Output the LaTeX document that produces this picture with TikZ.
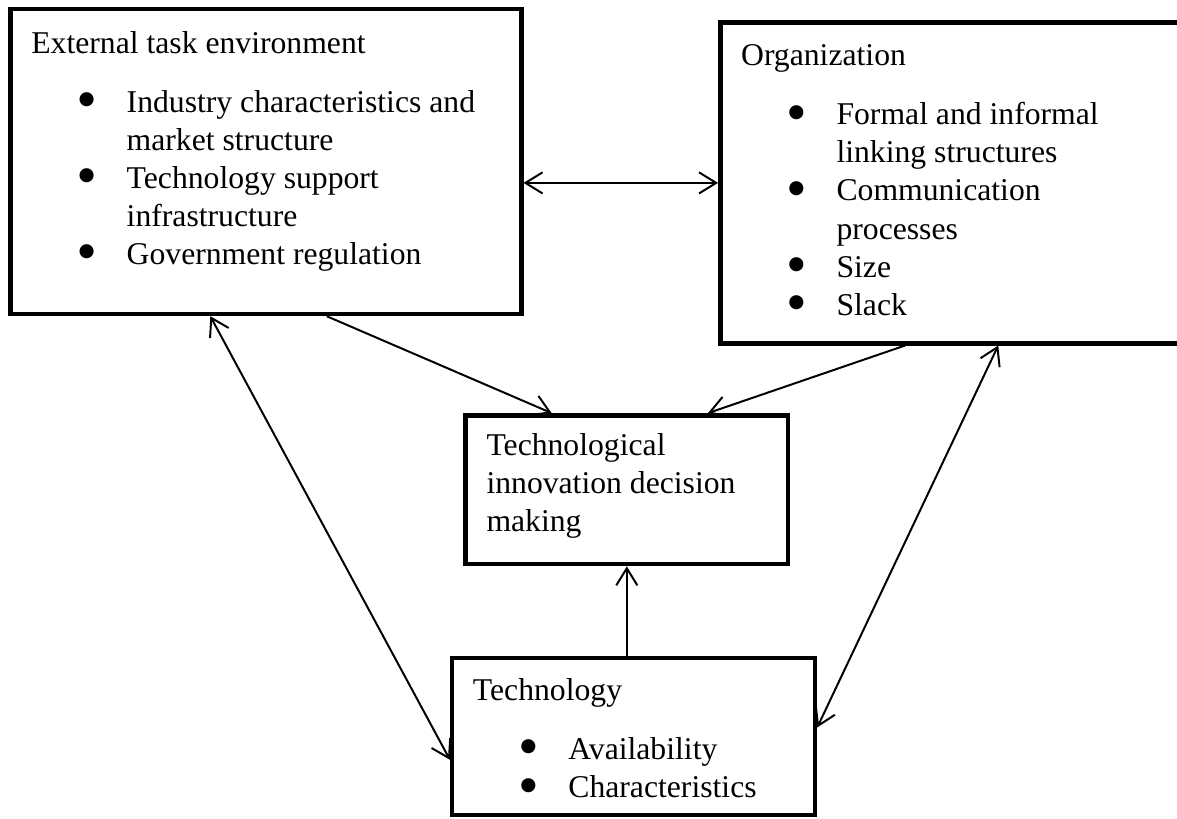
\documentclass[tikz,border=0pt]{standalone}
\usepackage{fontspec}
\setmainfont{Liberation Serif}
\newfontfamily\dotfont{DejaVu Sans}
\usetikzlibrary{arrows.meta,positioning}

\newcommand{\bul}{\makebox[1.27cm][l]{\hspace{0.63cm}\raisebox{3pt}{\dotfont\fontsize{7}{8}\selectfont ●}}}
\newcommand{\cont}{\hspace*{1.27cm}}

\begin{document}
\begin{tikzpicture}[
    block/.style={draw, line width=1.7pt, rectangle, inner sep=0pt},
    blocktext/.style={anchor=north west, align=left, inner sep=0pt, font=\fontsize{12}{14.4}\selectfont},
    link/.style={line width=0.75pt, -{Straight Barb[length=6.5pt,width=8pt]}},
    twoway/.style={line width=0.75pt, {Straight Barb[length=6.5pt,width=8pt]}-{Straight Barb[length=6.5pt,width=8pt]}}
]
    \useasboundingbox (0,0) rectangle (15.67,10.90);

    \node[block, minimum width=6.80cm, minimum height=4.06cm] (ext) at (3.54,8.75) {};
    \node[block, minimum width=6.30cm, minimum height=4.27cm] (org) at (12.74,8.465) {};
    \node[block, minimum width=4.29cm, minimum height=1.98cm] (dec) at (8.345,4.38) {};
    \node[block, minimum width=4.83cm, minimum height=2.09cm] (tech) at (8.435,1.095) {};

    \node[blocktext] (exttxt) at ([xshift=0.30cm,yshift=-0.32cm]ext.north west)
        {External task environment\\[8pt]
         \bul Industry characteristics and\\ \cont market structure\\
         \bul Technology support\\ \cont infrastructure\\
         \bul Government regulation};
    \node[blocktext] (orgtxt) at ([xshift=0.30cm,yshift=-0.32cm]org.north west)
        {Organization\\[8pt]
         \bul Formal and informal\\ \cont linking structures\\
         \bul Communication\\ \cont processes\\
         \bul Size\\
         \bul Slack};
    \node[blocktext] (dectxt) at ([xshift=0.30cm,yshift=-0.26cm]dec.north west)
        {Technological\\ innovation decision\\ making};
    \node[blocktext] (techtxt) at ([xshift=0.30cm,yshift=-0.30cm]tech.north west)
        {Technology\\[8pt]
         \bul Availability\\
         \bul Characteristics};

    \draw[twoway] (org.west -| ext.east) -- (org.west);
    \draw[link] ([xshift=0.81cm]ext.south) -- ([xshift=-1.0cm]dec.north);
    \draw[link] ([xshift=-0.69cm]org.south) -- ([xshift=1.08cm]dec.north);
    \draw[link] (dec.south |- tech.north) -- (dec.south);
    \draw[twoway] ([xshift=-0.74cm]ext.south) -- ([yshift=-0.31cm]tech.west);
    \draw[twoway] ([xshift=0.55cm]org.south) -- ([yshift=0.12cm]tech.east);
\end{tikzpicture}
\end{document}
